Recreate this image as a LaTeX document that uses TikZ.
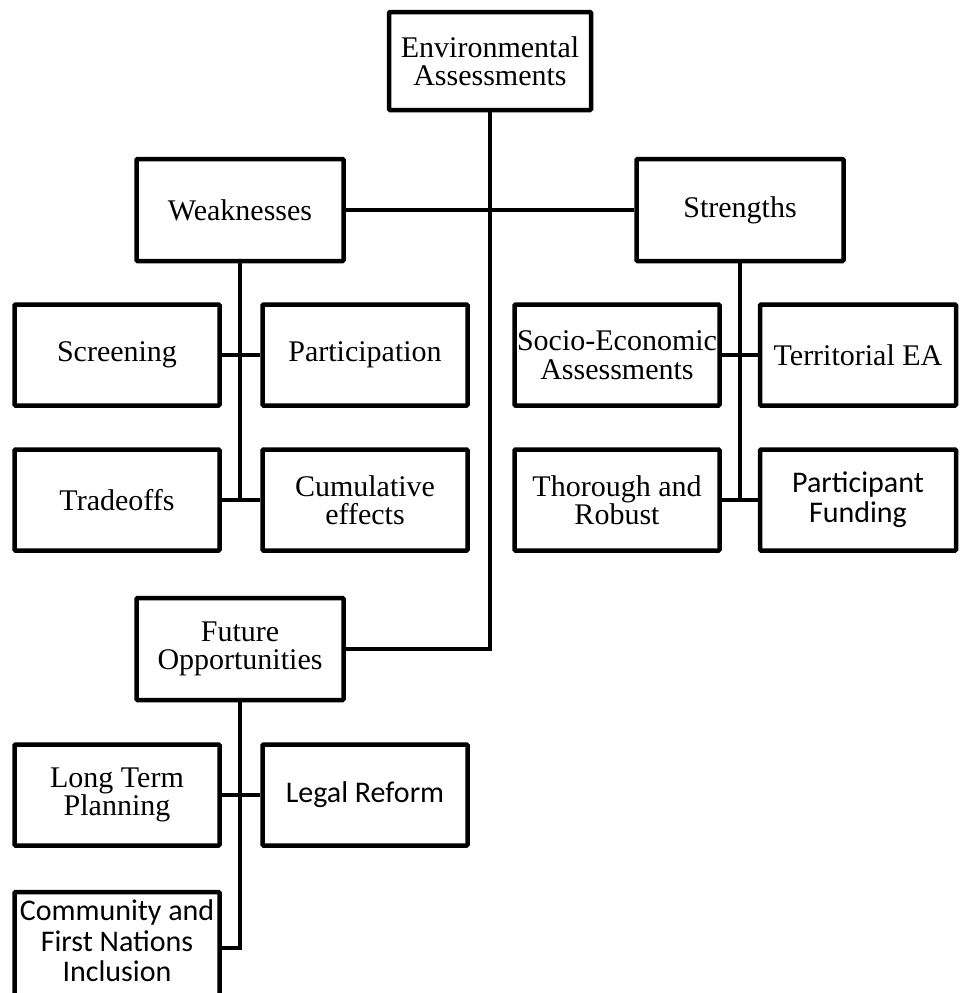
\documentclass[tikz,border=0pt]{standalone}
\usepackage{fontspec}
\setmainfont{Liberation Serif}
\newfontfamily\calib{Carlito}
\tikzset{
  box/.style={draw, line width=4.5pt, rounded corners=1pt, minimum width=205pt,
    minimum height=101pt, align=center, inner sep=1pt,
    font=\fontsize{30}{28.5}\selectfont},
  sbox/.style={box, font=\calib\fontsize{30}{30}\selectfont},
  link/.style={line width=4pt},
}
\begin{document}
\begin{tikzpicture}[x=1pt,y=-1pt]
\fill[white] (0,0) rectangle (959,993);
\useasboundingbox (0,0) rectangle (959,993);
\clip (0,0) rectangle (959,993);
% top
\node[box, minimum width=202pt, minimum height=98pt] (ea) at (490,61) {Environmental\\Assessments};
\node[box, minimum width=207pt, minimum height=102pt] (weak) at (240,210) {Weaknesses};
\node[box, minimum width=207pt, minimum height=102pt] (str) at (740,210) {Strengths};
% weaknesses children
\node[box] (scr) at (117,355) {Screening};
\node[box] (par) at (365,355) {Participation};
\node[box] (tra) at (117,500) {Tradeoffs};
\node[box] (cum) at (365,500) {Cumulative\\effects};
% strengths children
\node[box] (soc) at (617,355) {Socio-Economic\\Assessments};
\node[box, minimum width=196pt] (ter) at (858,355) {Territorial EA};
\node[box] (tho) at (617,500) {Thorough and\\Robust};
\node[sbox, minimum width=196pt] (fun) at (858,500) {Participant\\Funding};
% future
\node[box, minimum width=207pt, minimum height=102pt] (fut) at (240,649) {Future\\Opportunities};
\node[box] (ltp) at (117,795) {Long Term\\Planning};
\node[sbox] (leg) at (365,795) {Legal Reform};
\node[draw, line width=4.5pt, rounded corners=1pt, minimum width=205pt, minimum height=112pt] (comb) at (117,948) {};
\node[font=\calib\fontsize{30}{30.5}\selectfont, align=center] (comt) at (117,941) {Community and\\First Nations\\Inclusion};
% connectors
\draw[link] (ea.south) |- (fut.east);
\draw[link] (weak.east) -- (str.west);
\draw[link] (weak.south) -- (weak.south |- tra.east);
\draw[link] (scr.east) -- (par.west);
\draw[link] (tra.east) -- (cum.west);
\draw[link] (str.south) -- (str.south |- tho.east);
\draw[link] (soc.east) -- (ter.west);
\draw[link] (tho.east) -- (fun.west);
\draw[link] (fut.south) |- (comb.east);
\draw[link] (ltp.east) -- (leg.west);
\end{tikzpicture}
\end{document}
